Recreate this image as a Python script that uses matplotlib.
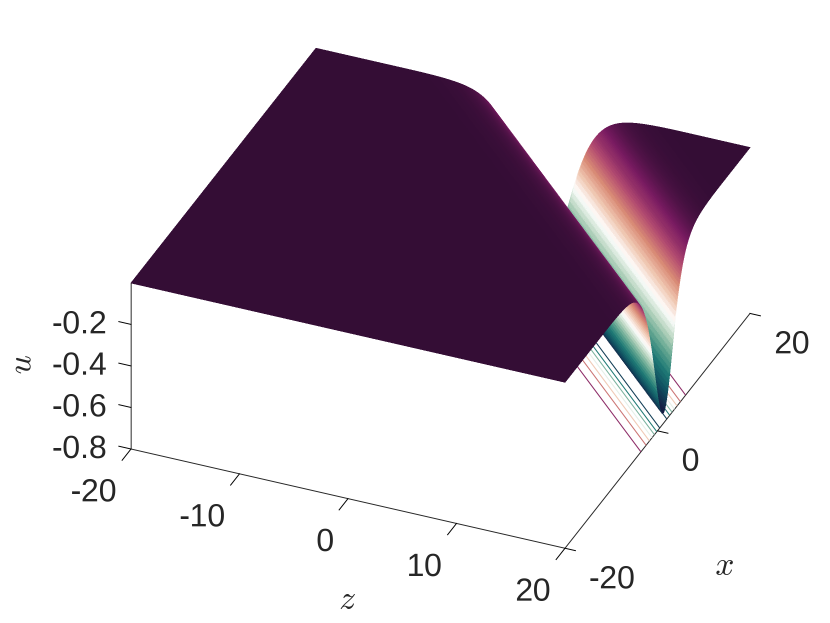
import numpy as np
import matplotlib
matplotlib.use("Agg")
import matplotlib.pyplot as plt
import matplotlib.image as mimg
from matplotlib.colors import LinearSegmentedColormap, Normalize
from matplotlib.transforms import ScaledTranslation
from mpl_toolkits.mplot3d import proj3d

# Trough depth: u at 0.125 steps away from the trough centre
half_profile = [
    -.7500, -.7486, -.7445, -.7376, -.7282, -.7162, -.7020, -.6857, -.6674, -.6475,
    -.6263, -.6038, -.5804, -.5563, -.5316, -.5068, -.4821, -.4572, -.4327, -.4089,
    -.3852, -.3625, -.3399, -.3186, -.2981, -.2789, -.2604, -.2431, -.2263, -.2103,
    -.1954, -.1816, -.1685, -.1561, -.1445, -.1335, -.1235, -.1140, -.1053, -.0971,
    -.0896, -.0826, -.0761, -.0701, -.0645, -.0594, -.0547, -.0504, -.0464, -.0427,
    -.0392, -.0361, -.0332, -.0305, -.0280, -.0258, -.0237, -.0218, -.0200, -.0184,
    -.0169, -.0155, -.0143, -.0132, -.0121, -.0111, -.0102, -.0094, -.0086, -.0080,
    -.0073, -.0067, -.0062, -.0057, -.0052, -.0048, -.0044, -.0040, -.0037, -.0034,
    -.0031, -.0029, -.0026, -.0024, -.0022, -.0020, -.0019, -.0017, -.0016, -.0015,
    -.0014, -.0012, -.0011, -.0011, -.0010, -.0009, -.0008,
]
grid_step = 0.125
grid_count = 321
centre_index = 490   # grid index sum (i + j) at the trough floor
contour_levels = [-0.7, -0.6, -0.5, -0.4, -0.3, -0.2, -0.1]
z_ticks = [-20, -10, 0, 10, 20]
x_ticks = [-20, 0, 20]
u_ticks = [-0.8, -0.6, -0.4, -0.2]

curl_colors = ["#141d43", "#0f4f60", "#1f7a75", "#5fa48f", "#b5d3bd", "#ffffff",
               "#f0c9b4", "#d98a75", "#b24a70", "#7a1b62", "#340d35"]
cmap = LinearSegmentedColormap.from_list("curl", curl_colors, N=512)
norm = Normalize(-0.75, 0)

plt.rcParams["font.family"] = ["Liberation Sans", "DejaVu Sans"]
plt.rcParams["mathtext.fontset"] = "cm"
plt.rcParams["axes.unicode_minus"] = False
TEXT = "#262626"
TICK = "#555555"

W, H = 830, 623
fig = plt.figure(figsize=(W / 100, H / 100), dpi=100, facecolor="white")
ax = fig.add_axes([0.1, 0.1, 0.8, 0.8], projection="3d", proj_type="ortho",
                  computed_zorder=False)
ax.view_init(elev=32.6, azim=-67)
ax.set_box_aspect((471, 473, 197))
ax.set_xlim(-20, 20)
ax.set_ylim(-20, 20)
ax.set_zlim(-0.8, 0)

i = np.arange(grid_count)
z_grid = -20 + grid_step * i
x_grid = -20 + grid_step * i
Zg, Xg = np.meshgrid(z_grid, x_grid)
J, I = np.meshgrid(i, i)
k = np.minimum(np.abs(I + J - centre_index), len(half_profile) - 1)
U = np.array(half_profile)[k]

# colour of each cell = mean height of its corners
Uc = U.copy()
Uc[:-1, :-1] = (U[:-1, :-1] + U[1:, :-1] + U[:-1, 1:] + U[1:, 1:]) / 4
rgba = cmap(norm(Uc))

ax.contour(Zg, Xg, U, levels=contour_levels, zdir="z", offset=-0.8, cmap=cmap,
           norm=norm, linewidths=0.75, zorder=1)
surf = ax.plot_surface(Zg, Xg, U, rstride=1, cstride=1, facecolors=rgba, shade=False,
                       linewidth=0.2, antialiased=False, zorder=2)
surf.set_edgecolors(rgba[:-1, :-1].reshape(-1, 4))

ax.zaxis._get_tickdir = lambda pos: 0   # u ticks run along the z direction, as in the reference
for axis, out in ((ax.xaxis, -0.6), (ax.yaxis, -0.3), (ax.zaxis, 0.35)):
    axis.set_pane_color((1, 1, 1, 0))
    axis.pane.set_edgecolor((1, 1, 1, 0))
    axis.line.set_color(TEXT)
    axis.line.set_linewidth(0.7)
    axis._axinfo["tick"]["inward_factor"] = 0.0
    axis._axinfo["tick"]["outward_factor"] = out
    axis._axinfo["tick"]["linewidth"] = {True: 0.7, False: 0.7}
    axis._axinfo["tick"]["color"] = TICK
ax.grid(False)
ax.set_xticks(z_ticks)
ax.set_yticks(x_ticks)
ax.set_zticks(u_ticks)
ax.set_zticklabels([f"{t:.1f}" for t in u_ticks])
ax.zaxis.set_ticks_position("lower")
ax.tick_params(axis="both", labelsize=23, labelcolor=TEXT, pad=6)
ax.tick_params(axis="z", labelsize=23, labelcolor=TEXT, pad=8)


def nudge_labels(axis, dx, dy, ha):
    """Fine placement of an axis' own tick labels, in figure pixels at 100 dpi."""
    original = axis.get_major_ticks

    def wrapped(numticks=None):
        ticks = original(numticks)
        for t in ticks:
            t.label1.set_transform(ax.transData + ScaledTranslation(dx / 100, dy / 100, fig.dpi_scale_trans))
            t.label1.set_ha(ha)
            t.label1.set_va("center")
        return ticks
    axis.get_major_ticks = wrapped


nudge_labels(ax.xaxis, -4, -22, "right")
nudge_labels(ax.yaxis, 0, -17, "left")
nudge_labels(ax.zaxis, 15, 8, "right")


# Place the box so its floor corners land where the reference has them
def corners():
    fig.canvas.draw()
    xs, ys, _ = proj3d.proj_transform(np.array([-20., 20.]), np.array([-20., 20.]),
                                      np.array([-0.8, -0.8]), ax.get_proj())
    return ax.transData.transform(np.column_stack([xs, ys]))


target = np.array([[131.0, H - 449.0], [750.0, H - 313.0]])
for _ in range(2):
    p = corners()
    s = (target[1, 0] - target[0, 0]) / (p[1, 0] - p[0, 0])
    pos = ax.get_position(original=True)
    ax.set_position([pos.x0, pos.y0, pos.width * s, pos.height * s])
    p = corners()
    d = (target[0] - p[0]) / np.array([W, H])
    pos = ax.get_position(original=True)
    ax.set_position([pos.x0 + d[0], pos.y0 + d[1], pos.width, pos.height])

fig.text(22 / W, 1 - 365 / H, "$u$", fontsize=24, color=TEXT, rotation=90, ha="center", va="center")
fig.text(724 / W, 1 - 566 / H, "$x$", fontsize=24, color=TEXT, ha="center", va="center")
fig.text(347 / W, 1 - 600 / H, "$z$", fontsize=24, color=TEXT, ha="center", va="center")

# Draw at 3x and average down, which keeps the dense surface cells free of seams
SS = 3
fig.savefig("out.png", dpi=100 * SS, facecolor="white")
img = mimg.imread("out.png")[:, :, :3]
h, w = img.shape[0] // SS, img.shape[1] // SS
small = img[:h * SS, :w * SS].reshape(h, SS, w, SS, 3).mean(axis=(1, 3))
mimg.imsave("out.png", small)
